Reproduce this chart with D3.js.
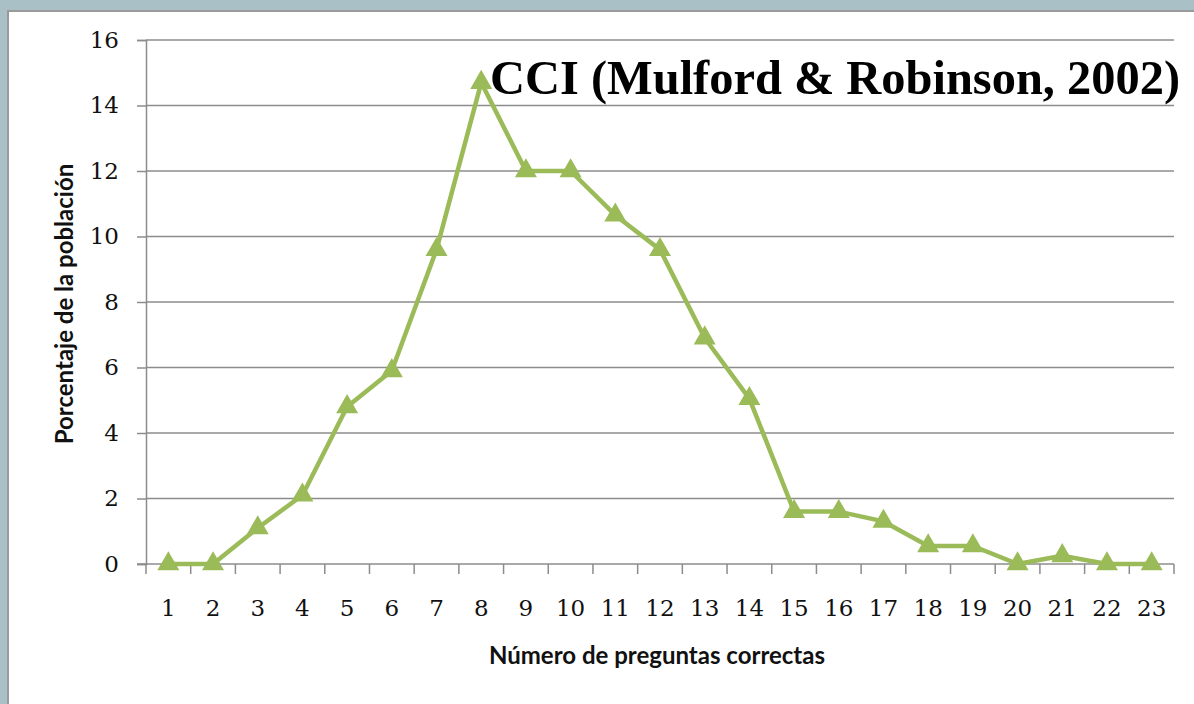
<!DOCTYPE html>
<html>
<head>
<meta charset="utf-8">
<script src="https://cdn.jsdelivr.net/npm/d3@7"></script>
<style>
	body { margin: 0; background: #a9c0c6; }
	svg { display: block; }
</style>
</head>
<body>
<svg id="svgChart" width="1194" height="704"></svg>
<script>
// Chart data
var categories = ["1", "2", "3", "4", "5", "6", "7", "8", "9", "10", "11", "12",
	"13", "14", "15", "16", "17", "18", "19", "20", "21", "22", "23"];
var values = [0, 0, 1.1, 2.1, 4.8, 5.9, 9.6, 14.7, 12.0, 12.0, 10.65, 9.6,
	6.9, 5.05, 1.6, 1.6, 1.3, 0.55, 0.55, 0, 0.25, 0, 0];
var yTicks = [0, 2, 4, 6, 8, 10, 12, 14, 16];
var chartTitle = "CCI (Mulford & Robinson, 2002)";
var xTitle = "Número de preguntas correctas";
var yTitle = "Porcentaje de la población";

var chart = [];
chart.width = 1194;
chart.height = 704;

chart.draw = () => {
	let svg = d3.select("#svgChart");
	let margin = {top: 40, right: 20, bottom: 140, left: 146},
		iwidth = 1174 - margin.left,
		iheight = 564 - margin.top;
	let serif = "DejaVu Serif, serif";

	// Frame (slide panel)
	svg.append("rect")
		.attr("x", 0).attr("y", 0)
		.attr("width", chart.width).attr("height", chart.height)
		.attr("fill", "#a9c0c6");
	svg.append("rect")
		.attr("x", 8).attr("y", 11)
		.attr("width", chart.width).attr("height", chart.height)
		.attr("fill", "#ffffff")
		.attr("stroke", "#9a9a9a")
		.attr("stroke-width", 2);

	// Scales
	let x = d3.scaleBand()
			.domain(categories)
			.range([0, iwidth]),
		y = d3.scaleLinear()
			.domain([0, 16])
			.range([iheight, 0]);

	let g = svg.append("g")
		.attr("transform", "translate(" + margin.left + "," + margin.top + ")");

	// Gridlines
	g.selectAll(".grid")
		.data(yTicks.filter(d => d > 0))
		.enter()
		.append("line")
		.attr("class", "grid")
		.attr("x1", 0)
		.attr("x2", iwidth)
		.attr("y1", d => y(d))
		.attr("y2", d => y(d))
		.style("stroke", "#8c8c8c")
		.style("stroke-width", 1.5);

	// Y axis
	let yAxis = g.append("g")
		.call(d3.axisLeft(y).tickValues(yTicks).tickSize(9).tickPadding(18).tickFormat(d3.format("d")));
	yAxis.select(".domain").style("stroke", "#8c8c8c").style("stroke-width", 1.5);
	yAxis.selectAll(".tick line").style("stroke", "#8c8c8c").style("stroke-width", 1.5);
	yAxis.selectAll("text")
		.style("font-family", serif)
		.style("font-size", "23px")
		.style("fill", "#111");

	// X axis (ticks at band boundaries)
	let xAxis = g.append("g")
		.attr("transform", "translate(0," + iheight + ")");
	xAxis.append("line")
		.attr("x1", -9).attr("x2", iwidth)
		.style("stroke", "#8c8c8c").style("stroke-width", 1.5);
	let bounds = d3.range(categories.length + 1).map(i => i * x.step());
	xAxis.selectAll(".xtick")
		.data(bounds)
		.enter()
		.append("line")
		.attr("class", "xtick")
		.attr("x1", d => d).attr("x2", d => d)
		.attr("y1", 0).attr("y2", 10)
		.style("stroke", "#8c8c8c").style("stroke-width", 1.5);
	xAxis.selectAll(".xlabel")
		.data(categories)
		.enter()
		.append("text")
		.attr("class", "xlabel")
		.attr("x", d => x(d) + x.bandwidth() / 2)
		.attr("y", 52)
		.attr("text-anchor", "middle")
		.style("font-family", serif)
		.style("font-size", "23px")
		.style("fill", "#111")
		.text(d => d);

	// Line
	let line = d3.line()
		.x((d, i) => x(categories[i]) + x.bandwidth() / 2)
		.y(d => y(d));
	g.append("path")
		.datum(values)
		.attr("d", line)
		.attr("fill", "none")
		.attr("stroke", "#9bbb59")
		.attr("stroke-width", 4.5)
		.attr("stroke-linejoin", "round");

	// Triangle markers
	let tri = d3.symbol().type(d3.symbolTriangle).size(210);
	g.selectAll(".marker")
		.data(values)
		.enter()
		.append("path")
		.attr("class", "marker")
		.attr("d", tri)
		.attr("transform", (d, i) => "translate(" + (x(categories[i]) + x.bandwidth() / 2) + "," + y(d) + ")")
		.attr("fill", "#9bbb59");

	// Axis titles
	svg.append("text")
		.attr("x", 657)
		.attr("y", 664)
		.attr("text-anchor", "middle")
		.style("font-family", "Lato, sans-serif")
		.style("font-weight", "bold")
		.style("font-size", "24px")
		.style("fill", "#111")
		.text(xTitle);

	svg.append("text")
		.attr("transform", "translate(73,304) rotate(-90)")
		.attr("text-anchor", "middle")
		.style("font-family", "Lato, sans-serif")
		.style("font-weight", "bold")
		.style("font-size", "24px")
		.style("fill", "#111")
		.text(yTitle);

	// Title
	svg.append("text")
		.attr("x", 490)
		.attr("y", 94)
		.attr("textLength", 690)
		.attr("lengthAdjust", "spacingAndGlyphs")
		.style("font-family", "Liberation Serif, serif")
		.style("font-weight", "bold")
		.style("font-size", "48px")
		.style("fill", "#000")
		.text(chartTitle);
}

chart.draw();
</script>
</body>
</html>
